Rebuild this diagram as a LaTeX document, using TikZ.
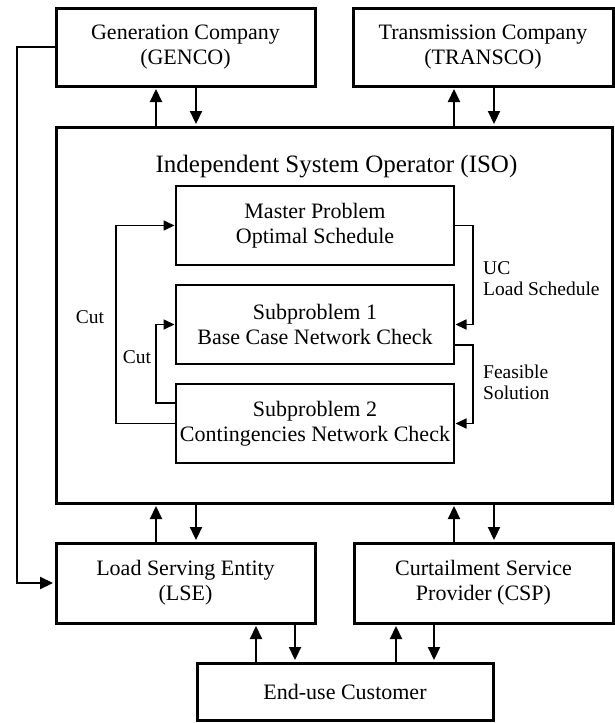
\documentclass[tikz,border=0pt]{standalone}
\usepackage{fontspec}
\setmainfont{Liberation Serif}
\usetikzlibrary{arrows.meta}
\begin{document}
\begin{tikzpicture}[x=1pt,y=-1pt,
  bigbox/.style={draw,line width=3pt,inner sep=0pt,align=center,font=\fontsize{22}{25}\selectfont},
  subbox/.style={draw,line width=1.5pt,inner sep=0pt,align=center,minimum width=278pt,minimum height=79pt,font=\fontsize{22}{25}\selectfont},
  lbl/.style={inner sep=0pt,align=left,font=\fontsize{19.5}{21}\selectfont},
  arr/.style={line width=2.2pt,shorten >=1.5pt,-{Triangle[length=13pt,width=12pt]}},
  loopar/.style={line width=1.7pt,shorten >=0.75pt,-{Triangle[length=11pt,width=10pt]}}]
\useasboundingbox (0,0) rectangle (615,723);
% main boxes
\node[bigbox,minimum width=259pt,minimum height=78pt] (genco) at (185.5,47) {Generation Company\\(GENCO)};
\node[bigbox,minimum width=260pt,minimum height=78pt] (transco) at (483,47) {Transmission Company\\(TRANSCO)};
\node[bigbox,minimum width=556pt,minimum height=376pt] (iso) at (334,315) {};
\node[inner sep=0pt,anchor=base,font=\fontsize{25}{28}\selectfont] (isot) at (336.5,172) {Independent System Operator (ISO)};
\node[bigbox,minimum width=259pt,minimum height=80pt] (lse) at (185.5,583) {Load Serving Entity\\(LSE)};
\node[bigbox,minimum width=259pt,minimum height=80pt] (csp) at (483.5,583) {Curtailment Service\\Provider (CSP)};
\node[bigbox,minimum width=296pt,minimum height=57pt] (cust) at (345,691.5) {End-use Customer};
% inner boxes
\node[subbox] (master) at (315,225.5) {Master Problem\\Optimal Schedule};
\node[subbox] (sub1) at (315,324.5) {Subproblem 1\\Base Case Network Check};
\node[subbox] (sub2) at (315,423.5) {Subproblem 2\\Contingencies Network Check};
% columns
\coordinate (cA) at (156,0);
\coordinate (cB) at (196,0);
\coordinate (cC) at (454,0);
\coordinate (cD) at (494,0);
\coordinate (cE) at (256,0);
\coordinate (cF) at (295,0);
\coordinate (cG) at (396,0);
\coordinate (cH) at (434,0);
\coordinate (cL) at (17,0);
\coordinate (cO) at (116,0);
\coordinate (cI) at (156,0);
\coordinate (cR) at (473,0);
\coordinate (s2w) at ([yshift=20.5pt]sub2.west);
\coordinate (s1e) at ([yshift=-20.5pt]sub1.east);
% outer arrows
\draw[arr] (iso.north -| cA) -- (genco.south -| cA);
\draw[arr] (genco.south -| cB) -- (iso.north -| cB);
\draw[arr] (iso.north -| cC) -- (transco.south -| cC);
\draw[arr] (transco.south -| cD) -- (iso.north -| cD);
\draw[arr] (lse.north -| cA) -- (iso.south -| cA);
\draw[arr] (iso.south -| cB) -- (lse.north -| cB);
\draw[arr] (csp.north -| cC) -- (iso.south -| cC);
\draw[arr] (iso.south -| cD) -- (csp.north -| cD);
\draw[arr] (cust.north -| cE) -- (lse.south -| cE);
\draw[arr] (lse.south -| cF) -- (cust.north -| cF);
\draw[arr] (cust.north -| cG) -- (csp.south -| cG);
\draw[arr] (csp.south -| cH) -- (cust.north -| cH);
\draw[arr] (genco.west) -- (genco.west -| cL) -- (lse.west -| cL) -- (lse.west);
% inner loops
\draw[loopar] (sub2.west) -- (sub2.west -| cO) -- (master.west -| cO) -- (master.west);
\draw[loopar] (s2w) -- (s2w -| cI) -- (sub1.west -| cI) -- (sub1.west);
\draw[loopar] (master.east) -- (master.east -| cR) -- (sub1.east -| cR) -- (sub1.east);
\draw[loopar] (s1e) -- (s1e -| cR) -- (sub2.east -| cR) -- (sub2.east);
% labels
\node[lbl] (cut1) at (90,317) {Cut};
\node[lbl] (cut2) at (137,357) {Cut};
\node[lbl,anchor=west] (uc) at (483,278.5) {UC\\Load Schedule};
\node[lbl,anchor=west] (fs) at (483,382) {Feasible\\Solution};
\end{tikzpicture}
\end{document}
